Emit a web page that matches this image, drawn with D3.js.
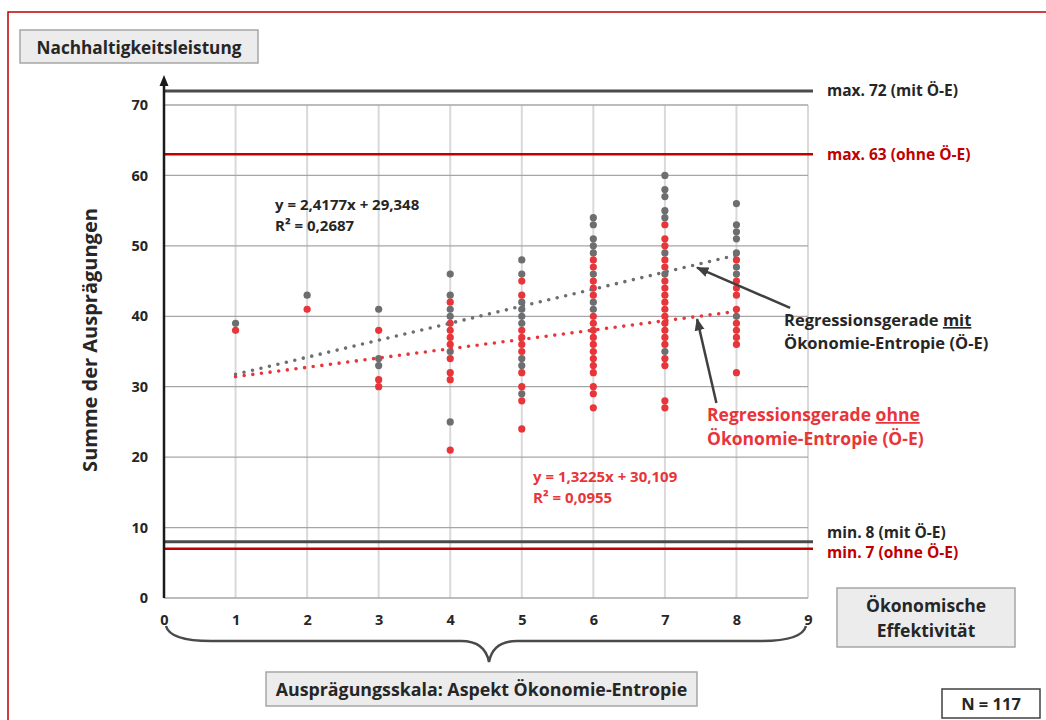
<!DOCTYPE html>
<html>
<head>
<meta charset="utf-8">
<script src="https://cdn.jsdelivr.net/npm/d3@7"></script>
<style>
  body { margin: 0; background: #fff; }
  text { font-family: "Open Sans", "DejaVu Sans", sans-serif; font-weight: bold; }
</style>
</head>
<body>
<script>
// Data
var levels = [1, 2, 3, 4, 5, 6, 7, 8];
// Summe der Ausprägungen mit Ö-E, per level
var mitValues = [
  [39],
  [43],
  [41, 34, 33],
  [46, 43, 41, 40, 35, 25],
  [48, 46, 42, 41, 40, 39, 34, 33, 29],
  [54, 53, 51, 50, 49, 46, 42, 41],
  [60, 58, 57, 55, 54, 49, 46, 35],
  [56, 53, 52, 51, 49, 47, 46, 40]
];
// Summe der Ausprägungen ohne Ö-E, per level
var ohneValues = [
  [38],
  [41],
  [38, 31, 30],
  [42, 39, 38, 37, 36, 34, 32, 31, 21],
  [45, 43, 38, 37, 36, 35, 32, 30, 28, 24],
  [48, 47, 45, 44, 43, 40, 39, 38, 37, 36, 35, 34, 33, 32, 30, 29, 27],
  [53, 51, 50, 48, 47, 45, 44, 43, 42, 41, 40, 39, 38, 37, 36, 34, 33, 28, 27],
  [48, 45, 44, 43, 41, 39, 38, 37, 36, 32]
];
var trendMit = [2.4177, 29.348];   // slope, intercept
var trendOhne = [1.3225, 30.109];
var trendRange = [1, 8];
var xTicks = [0, 1, 2, 3, 4, 5, 6, 7, 8, 9];
var yTicks = [0, 10, 20, 30, 40, 50, 60, 70];
var refValues = [72, 63, 8, 7];
var refLabels = ["max. 72 (mit Ö-E)", "max. 63 (ohne Ö-E)", "min. 8 (mit Ö-E)", "min. 7 (ohne Ö-E)"];

var GRAY = "#6d6e70", RED = "#e8353a", DARKRED = "#c00000", INK = "#262626";

var w = 1046, h = 720;
var svg = d3.select("body").append("svg")
  .attr("width", w).attr("height", h);

var defs = svg.append("defs");
defs.append("marker").attr("id", "arrow")
  .attr("viewBox", "0 0 10 10").attr("refX", 9).attr("refY", 5)
  .attr("markerWidth", 5).attr("markerHeight", 5).attr("orient", "auto")
  .append("path").attr("d", "M0,1 L10,5 L0,9 Z").attr("fill", "#404040");

// outer red frame
svg.append("rect").attr("x", 8).attr("y", 12).attr("width", 1200).attr("height", 900)
  .attr("fill", "none").attr("stroke", DARKRED).attr("stroke-width", 1.5);

var x = d3.scaleLinear().domain([0, 9]).range([164, 808]);
var y = d3.scaleLinear().domain([0, 70]).range([598, 105]);

// grid
svg.append("g").selectAll("line").data(xTicks.slice(1)).enter().append("line")
  .attr("x1", d => x(d)).attr("x2", d => x(d))
  .attr("y1", y(70)).attr("y2", y(0))
  .attr("stroke", "#d9d9d9").attr("stroke-width", 2);
svg.append("g").selectAll("line").data(yTicks).enter().append("line")
  .attr("x1", x(0)).attr("x2", x(9))
  .attr("y1", d => y(d)).attr("y2", d => y(d))
  .attr("stroke", "#a6a6a6").attr("stroke-width", 1.3);

// reference lines
var refColor = [ "#4a4a4a", DARKRED, "#4a4a4a", DARKRED ];
svg.append("g").selectAll("line").data(refValues).enter().append("line")
  .attr("x1", x(0)).attr("x2", x(9) + 5)
  .attr("y1", d => y(d)).attr("y2", d => y(d))
  .attr("stroke", (d, i) => refColor[i]).attr("stroke-width", (d, i) => i % 2 ? 2.5 : 3);

var refLabelY = [y(72), y(63), y(8) - 9, y(7) + 4];
svg.append("g").selectAll("text").data(refLabels).enter().append("text")
  .attr("x", 827).attr("y", (d, i) => refLabelY[i]).attr("dy", "0.35em")
  .attr("font-size", 15.5).attr("fill", (d, i) => i % 2 ? DARKRED : INK)
  .text(d => d);

// axes
var yAxis = svg.append("g").attr("transform", "translate(" + x(0) + ",0)")
  .call(d3.axisLeft(y).tickValues(yTicks).tickSize(0).tickPadding(16));
yAxis.select(".domain").remove();
yAxis.selectAll("text").attr("font-size", 14.5).attr("fill", INK)
  .style("font-family", "'Open Sans', sans-serif").style("font-weight", "bold");

var xAxis = svg.append("g").attr("transform", "translate(0," + y(0) + ")")
  .call(d3.axisBottom(x).tickValues(xTicks).tickSize(0).tickPadding(17));
xAxis.select(".domain").remove();
xAxis.selectAll("text").attr("font-size", 14.5).attr("fill", INK)
  .style("font-family", "'Open Sans', sans-serif").style("font-weight", "bold");

// y axis line with arrow
svg.append("line").attr("x1", x(0)).attr("x2", x(0)).attr("y1", y(0)).attr("y2", 84)
  .attr("stroke", "#1a1a1a").attr("stroke-width", 2.5);
svg.append("path").attr("d", "M" + x(0) + ",75 L" + (x(0) - 4.5) + ",86 L" + (x(0) + 4.5) + ",86 Z")
  .attr("fill", "#1a1a1a");

// trend lines (dotted)
function trendLine(t, color) {
  svg.append("line")
    .attr("x1", x(trendRange[0])).attr("y1", y(t[0] * trendRange[0] + t[1]))
    .attr("x2", x(trendRange[1])).attr("y2", y(t[0] * trendRange[1] + t[1]))
    .attr("stroke", color).attr("stroke-width", 3.6)
    .attr("stroke-linecap", "round").attr("stroke-dasharray", "0 8.7");
}

// points
function points(values, color) {
  var pts = [];
  values.forEach(function (col, i) {
    col.forEach(function (v) { pts.push([levels[i], v]); });
  });
  svg.append("g").selectAll("circle").data(pts).enter().append("circle")
    .attr("cx", d => x(d[0])).attr("cy", d => y(d[1]))
    .attr("r", 3.6).attr("fill", color);
}
points(mitValues, GRAY);
points(ohneValues, RED);
trendLine(trendMit, GRAY);
trendLine(trendOhne, RED);

// multi-line labels
function label(lines, px, py, size, color, lh) {
  var g = svg.append("g");
  lines.forEach(function (l, i) {
    g.append("text").attr("x", px).attr("y", py + i * lh)
      .attr("font-size", size).attr("fill", color).html(l);
  });
  return g;
}
label(["y = 2,4177x + 29,348", "R² = 0,2687"], 275, 210, 15, INK, 20.5);
label(["y = 1,3225x + 30,109", "R² = 0,0955"], 533, 482, 15, RED, 20.5);

// annotations
label(["Regressionsgerade <tspan text-decoration='underline'>mit</tspan>", "Ökonomie-Entropie (Ö-E)"], 784, 326, 16.5, INK, 23);
label(["Regressionsgerade <tspan text-decoration='underline'>ohne</tspan>", "Ökonomie-Entropie (Ö-E)"], 707, 421, 17.5, RED, 24);

svg.append("line")
  .attr("x1", x(8.75)).attr("y1", y(41.2)).attr("x2", x(7.45)).attr("y2", y(46.9))
  .attr("stroke", "#404040").attr("stroke-width", 2.5).attr("marker-end", "url(#arrow)");
svg.append("line")
  .attr("x1", x(7.72)).attr("y1", y(27.7)).attr("x2", x(7.45)).attr("y2", y(39.6))
  .attr("stroke", "#404040").attr("stroke-width", 2.5).attr("marker-end", "url(#arrow)");

// y title
svg.append("text").attr("transform", "translate(97,340) rotate(-90)")
  .attr("text-anchor", "middle").attr("font-size", 20).attr("fill", INK)
  .text("Summe der Ausprägungen");

// boxes
function box(bx, by, bw, bh, lines, size, fill, stroke) {
  svg.append("rect").attr("x", bx).attr("y", by).attr("width", bw).attr("height", bh)
    .attr("fill", fill).attr("stroke", stroke).attr("stroke-width", 1.5);
  var t = svg.append("text").attr("text-anchor", "middle").attr("font-size", size).attr("fill", INK);
  var lh = size * 1.4, y0 = by + bh / 2 - (lines.length - 1) * lh / 2 + 1;
  lines.forEach(function (l, i) {
    t.append("tspan").attr("x", bx + bw / 2).attr("y", y0 + i * lh).attr("dy", "0.35em").text(l);
  });
}
box(20, 30, 238, 33, ["Nachhaltigkeitsleistung"], 17.2, "#ececec", "#a6a6a6");
box(837, 588, 178, 59, ["Ökonomische", "Effektivität"], 17.5, "#ececec", "#a6a6a6");
box(266, 672, 431, 34, ["Ausprägungsskala: Aspekt Ökonomie-Entropie"], 17.8, "#ececec", "#a6a6a6");
box(942, 689, 98, 29, ["N = 117"], 16.5, "#fff", "#404040");

// curly brace under x axis
var bx0 = x(0) + 2, bx1 = x(9) - 2, bc = x(4.5) + 3, by = 641;
var brace = "M" + bx0 + ",626 Q" + (bx0 + 4) + "," + by + " " + (bx0 + 45) + "," + by +
  " L" + (bc - 28) + "," + by + " Q" + (bc - 4) + "," + by + " " + bc + "," + (by + 21) +
  " Q" + (bc + 4) + "," + by + " " + (bc + 28) + "," + by +
  " L" + (bx1 - 45) + "," + by + " Q" + (bx1 - 4) + "," + by + " " + bx1 + ",626";
svg.append("path").attr("d", brace).attr("fill", "none")
  .attr("stroke", "#4a4a4a").attr("stroke-width", 2.5);
</script>
</body>
</html>
